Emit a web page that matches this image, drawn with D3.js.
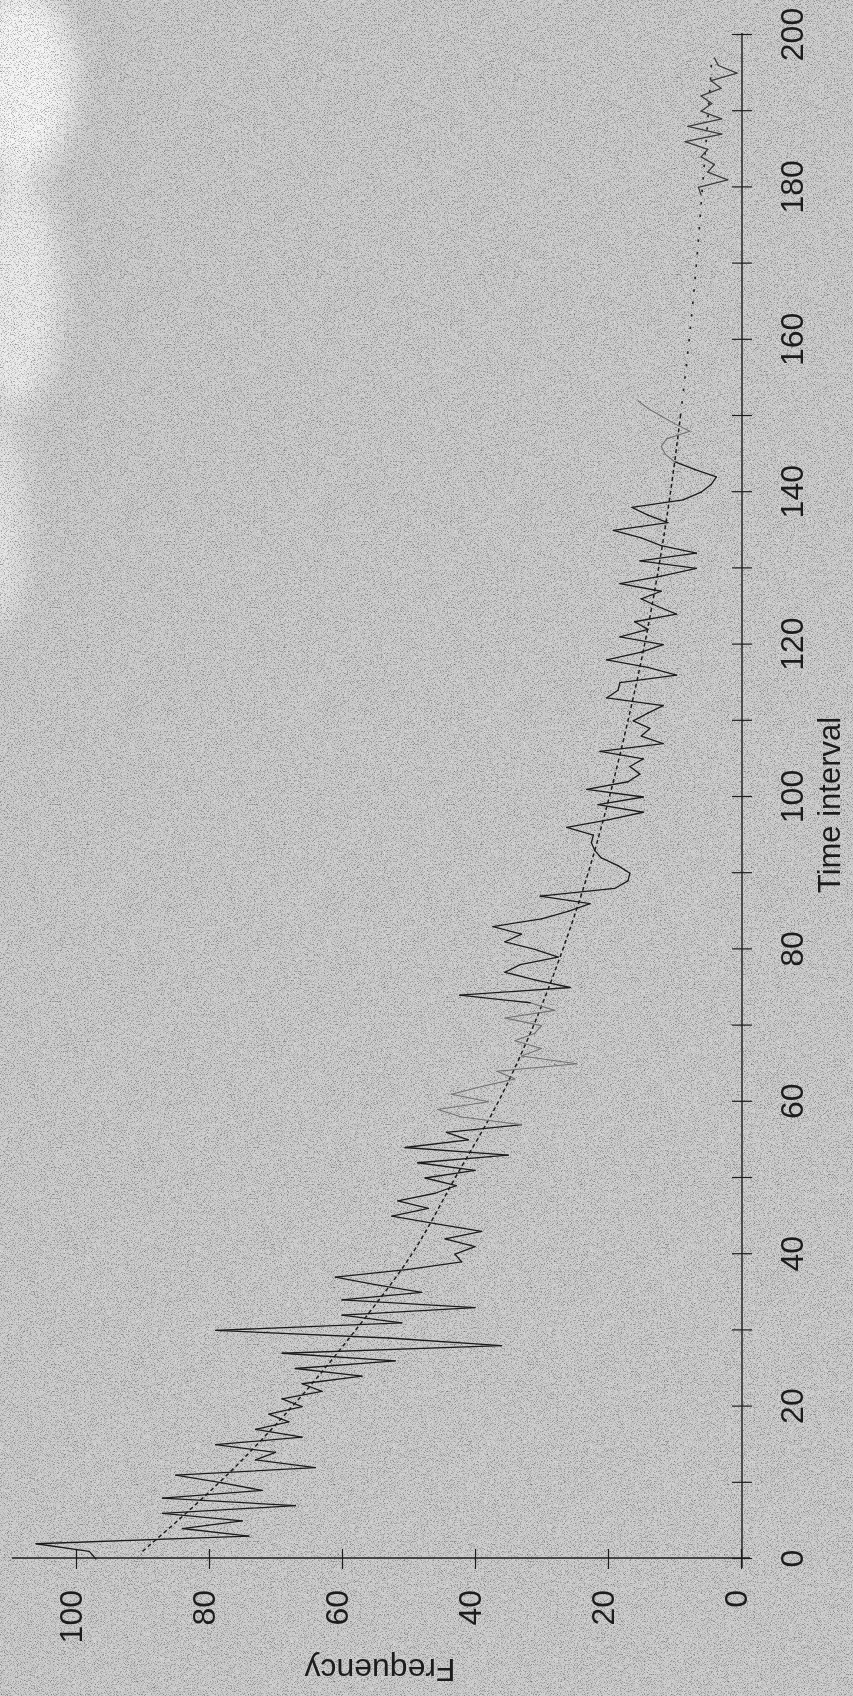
<!DOCTYPE html>
<html>
<head>
<meta charset="utf-8">
<script src="https://cdn.jsdelivr.net/npm/d3@7"></script>
<style>
  html, body { margin: 0; padding: 0; background: #c8c8c8; }
  svg { display: block; }
  text { font-family: "Liberation Sans", Arial, Helvetica, sans-serif; }
</style>
</head>
<body>
<div id="chart"></div>
<script>
// Observed frequency per time interval (null = no observation)
const counts = [
  97, 98, 106, 74, 84, 75, 87, 67, 87, 72,
  78, 85, 64, 73, 70, 79, 66, 73, 68, 71,
  66, 69, 63, 66, 57, 67, 52, 69, 36, 53,
  79, 51, 60, 40, 60, 48, 55, 61, 50, 42,
  43, 40, 44.5, 39, 46, 52.5, 47, 51.6, 46, 42.8,
  47.5, 40, 48.6, 35, 50.5, 41, 44.3, 33, 42, 45.6,
  38, 43.5, 39, 34, 36.7, 24.7, 33, 30, 34, 31,
  30, 35.5, 28, 31.7, 42.3, 25.7, 31, 35.5, 33.2, 27.5,
  31, 35.5, 33, 37.3, 30, 26, 22.7, 30.2, 19, 17,
  16.7, 18.5, 21, 22, 22.5, 22.2, 26.2, 20, 14.7, 21.5,
  14.7, 23.2, 17, 15.2, 16.7, 14.7, 21.2, 11.7, 15, 13.7,
  16.2, 14, 11.7, 20.2, 18.5, 18.2, 9.7, 14, 20.2, 15,
  11.7, 18.2, 14, 16, 9.7, 12.5, 15, 12, 18.2, 12,
  6.7, 15.2, 6.7, 12, 15, 19.2, 11, 14, 16.4, 8.7,
  6, 4.5, 3.7, 7, 10, 11.4, 12, 11.2, 7.7, 10,
  12, 14, 15.5, null, null, null, null, null, null, null,
  null, null, null, null, null, null, null, null, null, null,
  null, null, null, null, null, null, null, null, null, 6,
  6.4, 2, 5, 4, 6, 5, 8.4, 2.9, 8, 2.9,
  6, 4.4, 6, 3, 4.5, 0.6, 3.4, 4
];

// Fitted decay curve, read at intervals
const trendTimes  = [1, 10, 20, 30, 40, 50, 60, 70, 80, 90, 100, 110, 120, 130, 140, 150, 160, 170, 180, 190, 197];
const trendValues = [90, 78.5, 67.5, 58, 49.5, 43, 36.5, 31.2, 26.8, 23, 19.8, 17, 14.5, 12.4, 10.6, 9.1, 7.8, 6.7, 5.8, 4.9, 4.4];

// Stretches of the series printed in a lighter tone
const faintRanges = [[57, 73], [144, 152]];

const timeTicks  = [0, 10, 20, 30, 40, 50, 60, 70, 80, 90, 100, 110, 120, 130, 140, 150, 160, 170, 180, 190, 200];
const timeLabels = [0, 20, 40, 60, 80, 100, 120, 140, 160, 180, 200];
const freqTicks  = [0, 20, 40, 60, 80, 100];

const xTitle = "Time interval";
const yTitle = "Frequency";

const PAGE_W = 853, PAGE_H = 1696;

const svg = d3.select("#chart").append("svg")
  .attr("width", PAGE_W).attr("height", PAGE_H);

// ---- paper texture ----
const defs = svg.append("defs");
const grainDark = defs.append("filter").attr("id", "grainDark")
  .attr("x", 0).attr("y", 0).attr("width", "100%").attr("height", "100%");
grainDark.append("feTurbulence").attr("type", "fractalNoise")
  .attr("baseFrequency", 1.3).attr("numOctaves", 1).attr("seed", 7);
grainDark.append("feColorMatrix").attr("type", "matrix")
  .attr("values", "0 0 0 0 0  0 0 0 0 0  0 0 0 0 0  -1.3 0 0 0 0.66");

const grainLight = defs.append("filter").attr("id", "grainLight")
  .attr("x", 0).attr("y", 0).attr("width", "100%").attr("height", "100%");
grainLight.append("feTurbulence").attr("type", "fractalNoise")
  .attr("baseFrequency", 1.3).attr("numOctaves", 1).attr("seed", 19);
grainLight.append("feColorMatrix").attr("type", "matrix")
  .attr("values", "0 0 0 0 1  0 0 0 0 1  0 0 0 0 1  1.3 0 0 0 -0.62");

const soft = defs.append("filter").attr("id", "soft")
  .attr("x", "-50%").attr("y", "-50%").attr("width", "200%").attr("height", "200%");
soft.append("feGaussianBlur").attr("stdDeviation", 14);

svg.append("rect").attr("width", PAGE_W).attr("height", PAGE_H).attr("fill", "#c9c9c9");

// pale, worn patches along the left edge of the sheet
const patches = svg.append("g").attr("filter", "url(#soft)").attr("fill", "#ffffff");
patches.append("ellipse").attr("cx", 20).attr("cy", 80).attr("rx", 55).attr("ry", 95).attr("opacity", 0.8);
patches.append("ellipse").attr("cx", 15).attr("cy", 290).attr("rx", 45).attr("ry", 120).attr("opacity", 0.62);
patches.append("ellipse").attr("cx", 0).attr("cy", 520).attr("rx", 25).attr("ry", 110).attr("opacity", 0.5);

svg.append("rect").attr("width", PAGE_W).attr("height", PAGE_H)
  .attr("filter", "url(#grainLight)");
svg.append("rect").attr("width", PAGE_W).attr("height", PAGE_H)
  .attr("filter", "url(#grainDark)");

// ---- chart, printed turned a quarter turn counter-clockwise ----
const g = svg.append("g")
  .attr("transform", `translate(0,${PAGE_H}) rotate(-90)`);

const x = d3.scaleLinear().domain([0, 200]).range([137, 1661]);
const y = d3.scaleLinear().domain([0, 100]).range([741, 76]);

const ink = "#1c1c1c";

// axis lines
g.append("line")
  .attr("x1", 128).attr("x2", x(200) + 2)
  .attr("y1", y(0) + 1).attr("y2", y(0) + 1)
  .attr("stroke", ink).attr("stroke-width", 1.4);
g.append("line")
  .attr("x1", 138).attr("x2", 138)
  .attr("y1", 12).attr("y2", y(0) + 9)
  .attr("stroke", ink).attr("stroke-width", 1.4);

// time axis
const xAxis = g.append("g")
  .attr("transform", `translate(0,${y(0) + 1})`)
  .call(d3.axisBottom(x).tickValues(timeTicks).tickSizeOuter(0)
    .tickFormat(d => timeLabels.includes(d) ? d : ""));
xAxis.select(".domain").remove();
xAxis.selectAll(".tick line")
  .attr("y1", -10).attr("y2", 10)
  .attr("stroke", ink).attr("stroke-width", 1.2);
xAxis.selectAll(".tick text")
  .attr("y", 38).attr("dy", "0.71em")
  .attr("fill", ink).attr("font-size", 32)
  .attr("font-family", "Liberation Sans, Arial, sans-serif");

// frequency axis
const yAxis = g.append("g")
  .attr("transform", "translate(138,0)")
  .call(d3.axisLeft(y).tickValues(freqTicks).tickSizeOuter(0));
yAxis.select(".domain").remove();
yAxis.selectAll(".tick line")
  .attr("x1", -11).attr("x2", 9)
  .attr("stroke", ink).attr("stroke-width", 1.2);
yAxis.selectAll(".tick text")
  .attr("x", -32).attr("dy", "0.17em")
  .attr("fill", ink).attr("font-size", 32)
  .attr("font-family", "Liberation Sans, Arial, sans-serif");

// axis titles
g.append("text")
  .attr("x", 891).attr("y", 840)
  .attr("text-anchor", "middle")
  .attr("font-size", 31).attr("fill", ink)
  .text(xTitle);

g.append("text")
  .attr("transform", "translate(37,380) rotate(-90)")
  .attr("text-anchor", "middle")
  .attr("font-size", 32).attr("fill", ink)
  .text(yTitle);

// fitted trend (dashed, sparser in the tail)
const trend = trendTimes.map((t, i) => ({ t, v: trendValues[i] }));
const trendLine = d3.line().x(d => x(d.t)).y(d => y(d.v)).curve(d3.curveMonotoneX);
g.append("path")
  .attr("d", trendLine(trend.filter(d => d.t <= 150)))
  .attr("fill", "none").attr("stroke", ink)
  .attr("stroke-width", 1.5).attr("stroke-dasharray", "4,3");
g.append("path")
  .attr("d", trendLine(trend.filter(d => d.t >= 150)))
  .attr("fill", "none").attr("stroke", "#222")
  .attr("stroke-width", 1.7).attr("stroke-dasharray", "2.5,10");

// observed series, one segment per interval so each can take its tone
const series = counts.map((v, t) => ({ t, v }));
const isFaint = t => faintRanges.some(([a, b]) => t >= a && t < b);
const seg = d3.line().x(d => x(d.t)).y(d => y(d.v));
const pairs = d3.pairs(series).filter(([a, b]) => a.v != null && b.v != null);
g.append("g").selectAll("path")
  .data(pairs)
  .join("path")
  .attr("d", seg)
  .attr("fill", "none")
  .attr("stroke", ([a]) => isFaint(a.t) ? "#707070" : (a.t > 175 ? "#3a3a3a" : "#1a1a1a"))
  .attr("stroke-width", ([a]) => isFaint(a.t) ? 1.1 : 1.3)
  .attr("stroke-linecap", "round");
</script>
</body>
</html>
